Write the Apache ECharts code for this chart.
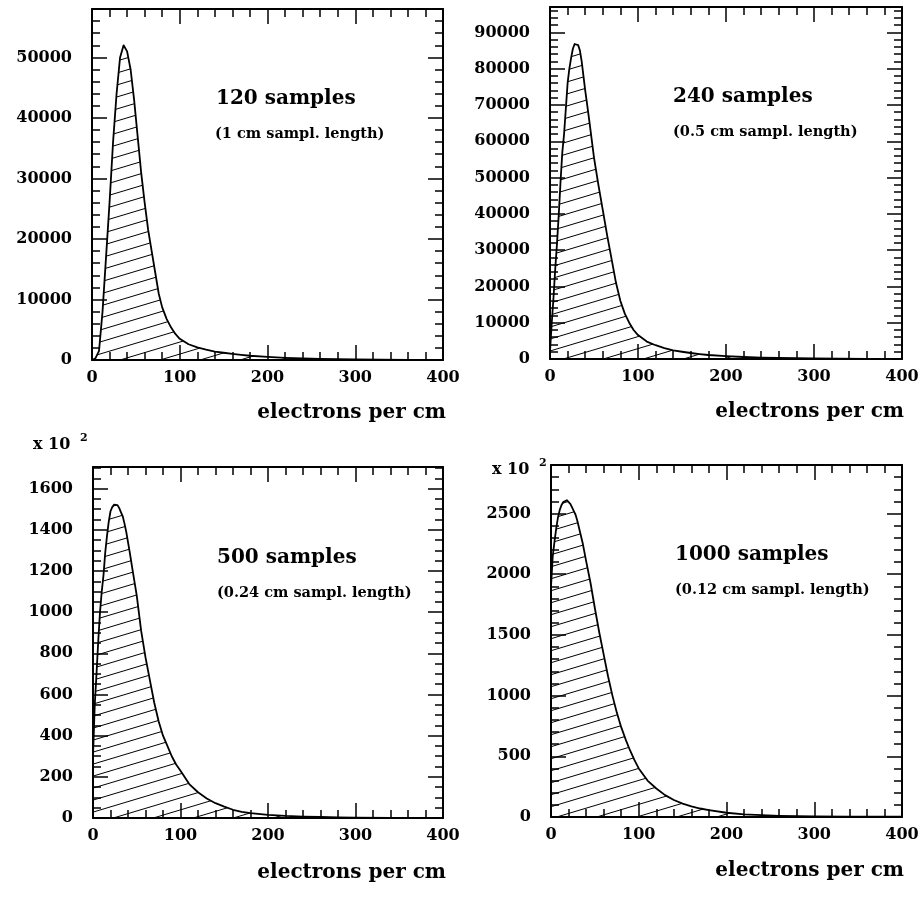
<!DOCTYPE html>
<html><head><meta charset="utf-8">
<script src="https://cdn.jsdelivr.net/npm/echarts@6/dist/echarts.min.js"></script>
<style>html,body{margin:0;padding:0;background:#fff}#c{width:922px;height:899px}</style>
</head><body><div id="c"></div>
<script>
// ---- data ----
const p1X=[0,4,8,12,16,20,24,28,32,36,40,44,48,52,56,60,64,68,72,76,80,85,90,95,100,110,120,130,140,150,160,170,180,200,220,240,260,280,300,330,360,400];
const p1Y=[0,300,1500,8000,17000,26000,36000,44000,50000,52000,51000,48000,43000,37000,31000,26000,21500,18000,14500,11000,8700,6800,5400,4300,3500,2600,2100,1700,1400,1200,1000,850,700,500,350,250,180,120,80,50,30,20];
const p2X=[0,2,4,6,8,10,12,14,16,18,20,22,24,26,28,30,32,34,36,38,40,42,45,50,55,60,65,70,75,80,85,90,95,100,110,120,130,140,150,160,170,180,200,220,240,260,280,300,330,360,400];
const p2Y=[2000,10000,17000,25000,32000,40000,49000,57000,62000,69000,76000,80000,83000,85500,86800,87000,86500,85000,82000,78000,74000,70500,65000,55500,48000,41000,34000,27500,21000,16000,12500,10000,8000,6600,4800,3800,3000,2400,2000,1650,1350,1100,800,550,400,300,200,150,100,60,40];
const p3X=[0,2,4,6,8,10,12,14,16,18,20,22,24,26,28,30,32,34,36,38,40,42,45,50,55,60,65,70,75,80,85,90,95,100,110,120,130,140,150,160,170,180,200,220,240,260,280,300,340,400];
const p3Y=[300,550,700,860,1000,1100,1180,1290,1370,1440,1490,1510,1522,1525,1520,1505,1485,1465,1430,1390,1340,1290,1210,1080,910,780,670,560,470,400,350,300,260,230,165,125,95,72,55,40,30,24,15,10,7,5,3,2,1,0.5];
const p4X=[0,2,4,6,8,10,12,14,16,18,20,22,24,26,28,30,33,36,40,45,50,55,60,65,70,75,80,85,90,95,100,110,120,130,140,150,160,170,180,200,220,240,260,280,300,340,400];
const p4Y=[1900,2150,2270,2380,2470,2530,2570,2595,2610,2610,2600,2580,2550,2520,2490,2440,2350,2260,2110,1930,1720,1520,1340,1160,1000,860,740,640,550,470,400,300,235,180,140,110,88,70,56,35,22,15,10,7,5,3,2];
const panelTitles=['120 samples','240 samples','500 samples','1000 samples'];
const panelSubtitles=['(1 cm sampl. length)','(0.5 cm sampl. length)','(0.24 cm sampl. length)','(0.12 cm sampl. length)'];
const xAxisTitle='electrons per cm';
const yScaleLabel='x 10';
const yScaleExp='2';
const xMax=400, xMajor=100, xMinor=20;
const yMax=[58000,97000,1705,2900];
const yMajor=[10000,10000,200,500];
const yMinor=[2000,2000,50,100];

// ---- layout ----
const grids=[
  {left:92,top:9,width:351,height:351},
  {left:550,top:7,width:352,height:352},
  {left:93,top:467,width:350,height:351},
  {left:551,top:465,width:351,height:352}
];
const titlePos=[[216,99],[673,97],[217,558],[675,555]];
const subPos=[[215,134],[673,132],[217,593],[675,590]];
const namePos=[[446,413],[904,412],[446,873],[904,871]];
const FONT='DejaVu Serif';

function hatch(){
  const c=document.createElement('canvas');c.width=40;c.height=12;
  const g=c.getContext('2d');g.strokeStyle='#000';g.lineWidth=1;
  for(const o of [-12,0,12]){g.beginPath();g.moveTo(0,12+o);g.lineTo(40,o);g.stroke();}
  return c;
}
const pattern={image:hatch(),repeat:'repeat'};

function axisCommon(major,showLabel,margin){
  return {
    axisLine:{show:major,onZero:false,lineStyle:{color:'#000',width:2}},
    axisTick:{show:true,inside:true,length:major?15:8,lineStyle:{color:'#000',width:1.5}},
    axisLabel:{show:showLabel,margin:margin,fontFamily:FONT,fontWeight:'bold',fontSize:16,color:'#000',showMaxLabel:false,
      formatter:v=>String(v)},
    splitLine:{show:false},minorTick:{show:false}
  };
}
const xAxes=[],yAxes=[],series=[];
const xsAll=[p1X,p2X,p3X,p4X], ysAll=[p1Y,p2Y,p3Y,p4Y];
for(let i=0;i<4;i++){
  [['bottom',true,true],['bottom',false,false],['top',true,false],['top',false,false]].forEach(([pos,maj,lab])=>{
    const a=Object.assign({type:'value',gridIndex:i,position:pos,min:0,max:xMax,interval:maj?xMajor:xMinor},axisCommon(maj,lab,10));
    a.axisLabel.showMaxLabel=true;
    xAxes.push(a);
  });
  [['left',true,true],['left',false,false],['right',true,false],['right',false,false]].forEach(([pos,maj,lab])=>{
    yAxes.push(Object.assign({type:'value',gridIndex:i,position:pos,min:0,max:yMax[i],interval:maj?yMajor[i]:yMinor[i]},axisCommon(maj,lab,20)));
  });
  series.push({
    type:'line',xAxisIndex:i*4,yAxisIndex:i*4,
    data:xsAll[i].map((x,k)=>[x,ysAll[i][k]]),
    showSymbol:false,symbol:'none',smooth:false,
    lineStyle:{color:'#000',width:1.8,join:'round'},
    areaStyle:{color:pattern,opacity:1},
    animation:false,silent:true
  });
}
const graphic=[];
for(let i=0;i<4;i++){
  graphic.push({type:'text',x:titlePos[i][0],y:titlePos[i][1],style:{text:panelTitles[i],fill:'#000',font:'bold 20px "'+FONT+'"',align:'left',verticalAlign:'middle'}});
  graphic.push({type:'text',x:subPos[i][0],y:subPos[i][1],style:{text:panelSubtitles[i],fill:'#000',font:'bold 14.5px "'+FONT+'"',align:'left',verticalAlign:'middle'}});
  graphic.push({type:'text',x:namePos[i][0],y:namePos[i][1],style:{text:xAxisTitle,fill:'#000',font:'bold 20px "'+FONT+'"',align:'right',verticalAlign:'middle'}});
}
[[33,445,80,438],[492,470,539,463]].forEach(p=>{
  graphic.push({type:'text',x:p[0],y:p[1],style:{text:yScaleLabel,fill:'#000',font:'bold 16px "'+FONT+'"',align:'left',verticalAlign:'middle'}});
  graphic.push({type:'text',x:p[2],y:p[3],style:{text:yScaleExp,fill:'#000',font:'bold 11px "'+FONT+'"',align:'left',verticalAlign:'middle'}});
});
const chart=echarts.init(document.getElementById('c'),null,{renderer:'canvas'});
chart.setOption({
  animation:false,backgroundColor:'#fff',
  grid:grids.map(g=>Object.assign({containLabel:false,outerBoundsMode:'none'},g)),
  xAxis:xAxes,yAxis:yAxes,series:series,graphic:graphic
});
</script></body></html>
